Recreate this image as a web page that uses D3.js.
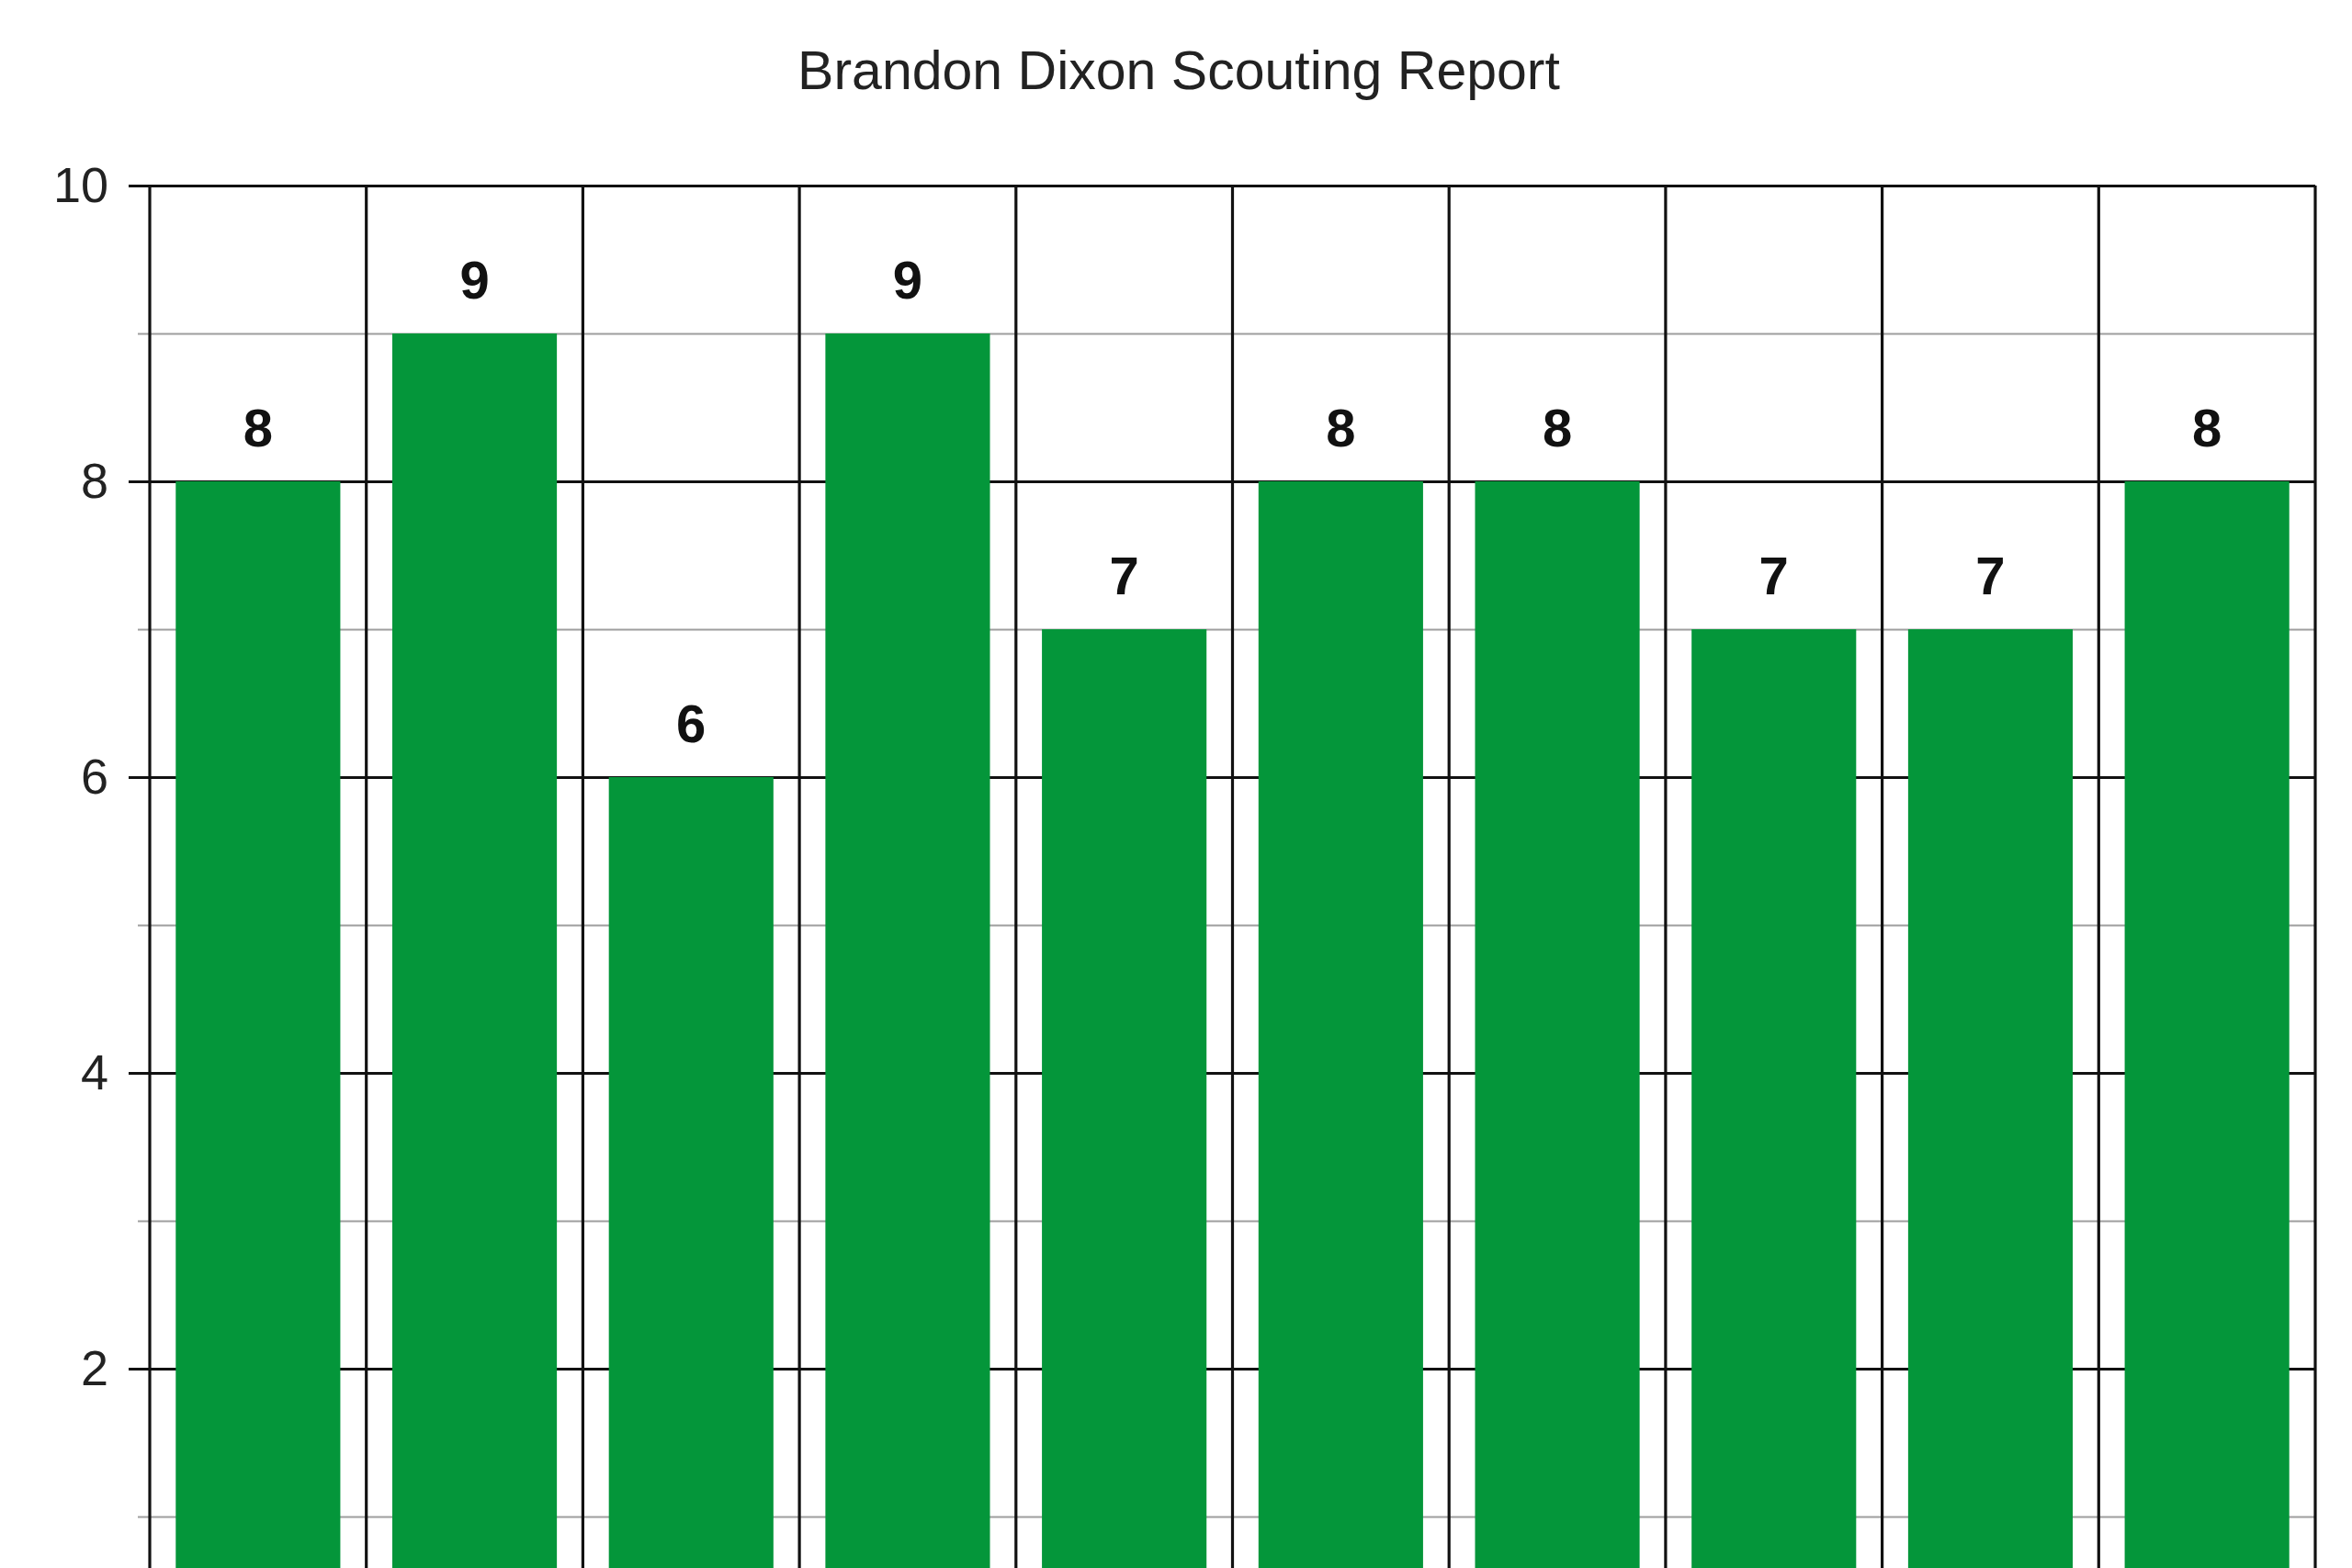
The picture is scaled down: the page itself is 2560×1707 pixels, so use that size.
<!DOCTYPE html>
<html>
<head>
<meta charset="utf-8">
<script src="https://cdn.jsdelivr.net/npm/d3@7"></script>
<style>
html,body{margin:0;padding:0;background:#fff;overflow:hidden;}
svg{display:block;}
</style>
</head>
<body>
<script>
const title = "Brandon Dixon Scouting Report";
const categories = ["Cat 1","Cat 2","Cat 3","Cat 4","Cat 5","Cat 6","Cat 7","Cat 8","Cat 9","Cat 10"];
const values = [8, 9, 6, 9, 7, 8, 8, 7, 7, 8];
const majorTicks = [0, 2, 4, 6, 8, 10];
const minorTicks = [1, 3, 5, 7, 9];

(function () {
const W = 2560, H = 1707;
const plotLeft = 163, plotRight = 2520, plotTop = 202, zeroY = 1812;

const svg = d3.select("body").append("svg").attr("width", W).attr("height", H);

const x = d3.scaleBand().domain(categories).range([plotLeft, plotRight]).paddingInner(0.24).paddingOuter(0.12);
const xb = d3.scaleBand().domain(categories).range([plotLeft, plotRight]);
const y = d3.scaleLinear().domain([0, 10]).range([zeroY, plotTop]);

// title
svg.append("text").attr("x", 1283).attr("y", 97).attr("text-anchor", "middle")
  .attr("font-family", "Liberation Sans, Arial, sans-serif").attr("font-size", 59)
  .attr("fill", "#222").text(title);

// minor gridlines
const minorAxis = d3.axisLeft(y).tickValues(minorTicks).tickSize(-(plotRight - plotLeft)).tickFormat("");
const gMinor = svg.append("g").attr("transform", `translate(${plotLeft},0)`).call(minorAxis);
gMinor.select(".domain").remove();
gMinor.selectAll("line").attr("stroke", "#9e9e9e").attr("stroke-width", 2).attr("x1", -13);

// major gridlines
const majorGrid = d3.axisLeft(y).tickValues(majorTicks).tickSize(-(plotRight - plotLeft)).tickFormat("");
const gMajor = svg.append("g").attr("transform", `translate(${plotLeft},0)`).call(majorGrid);
gMajor.select(".domain").remove();
gMajor.selectAll("line").attr("stroke", "#111").attr("stroke-width", 3.2).attr("x1", -23);

// vertical dividers
svg.append("g").selectAll("line").data(categories.slice(1)).join("line")
  .attr("x1", d => xb(d)).attr("x2", d => xb(d))
  .attr("y1", plotTop).attr("y2", H)
  .attr("stroke", "#111").attr("stroke-width", 3.2);

// frame
svg.append("line").attr("x1", plotLeft).attr("x2", plotLeft).attr("y1", plotTop).attr("y2", H).attr("stroke", "#111").attr("stroke-width", 3.2);
svg.append("line").attr("x1", plotRight).attr("x2", plotRight).attr("y1", plotTop).attr("y2", H).attr("stroke", "#111").attr("stroke-width", 3.2);

// bars
svg.append("g").selectAll("rect").data(values).join("rect")
  .attr("x", (d, i) => x(categories[i]))
  .attr("width", x.bandwidth())
  .attr("y", d => y(d))
  .attr("height", d => y(0) - y(d))
  .attr("fill", "#04963a");

// value labels
svg.append("g").selectAll("text").data(values).join("text")
  .attr("x", (d, i) => x(categories[i]) + x.bandwidth() / 2)
  .attr("y", d => y(d) - 38)
  .attr("text-anchor", "middle")
  .attr("font-family", "Liberation Sans, Arial, sans-serif")
  .attr("font-weight", "bold").attr("font-size", 58).attr("fill", "#111")
  .text(d => d);

// y axis labels
const yAxis = d3.axisLeft(y).tickValues(majorTicks.filter(v => v > 0)).tickSize(0).tickPadding(45);
const gY = svg.append("g").attr("transform", `translate(${plotLeft},0)`).call(yAxis);
gY.select(".domain").remove();
gY.selectAll("text").attr("font-family", "Liberation Sans, Arial, sans-serif")
  .attr("font-size", 54).attr("fill", "#222");
})();
</script>
</body>
</html>
